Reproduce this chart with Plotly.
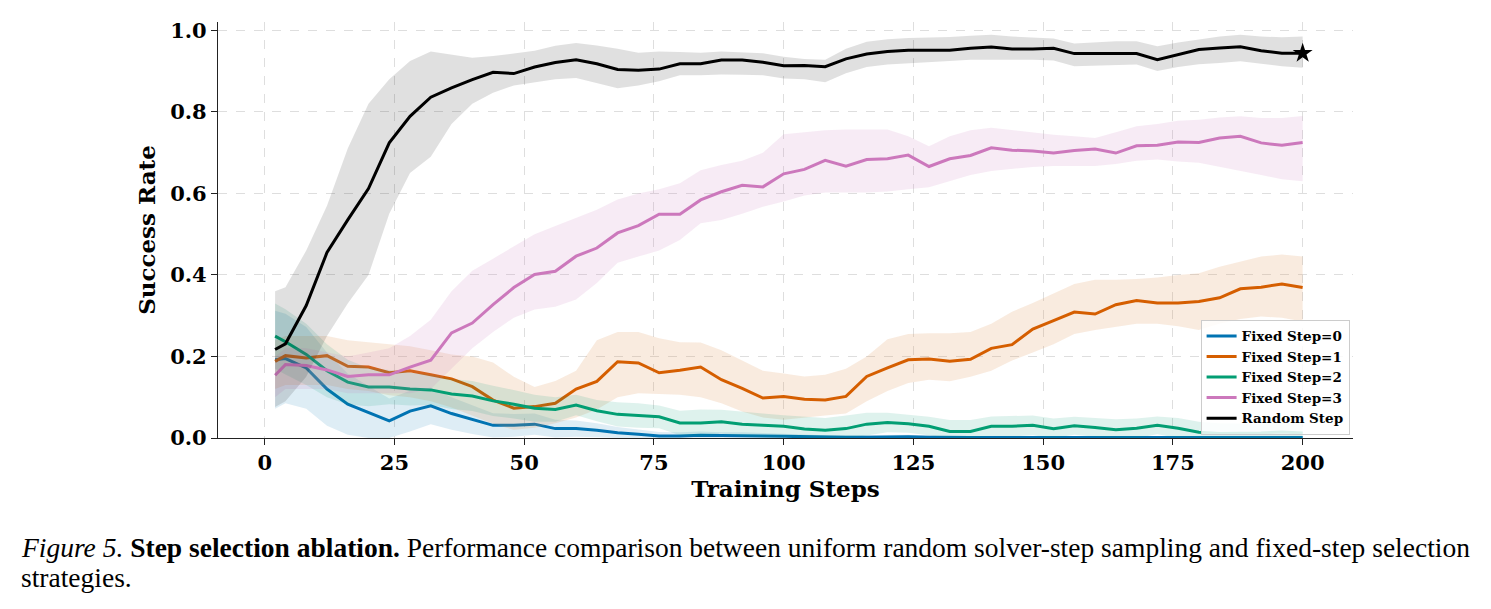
import plotly.graph_objects as go

# ---------------- data ----------------
steps = [2, 4, 8, 12, 16, 20, 24, 28, 32, 36, 40, 44, 48, 52, 56, 60, 64, 68, 72, 76,
         80, 84, 88, 92, 96, 100, 104, 108, 112, 116, 120, 124, 128, 132, 136, 140,
         144, 148, 152, 156, 160, 164, 168, 172, 176, 180, 184, 188, 192, 196, 200]

step0_mean = [0.192, 0.195, 0.172, 0.120, 0.083, 0.062, 0.042, 0.066, 0.079, 0.060, 0.045,
              0.031, 0.031, 0.034, 0.023, 0.023, 0.019, 0.013, 0.009, 0.005, 0.005, 0.007,
              0.006, 0.006, 0.005, 0.004, 0.003, 0.002, 0.002, 0.002, 0.003, 0.003, 0.002,
              0.001, 0.001, 0.001, 0.001, 0.001, 0.001, 0.001, 0.001, 0.001, 0.001, 0.001,
              0.001, 0.001, 0.001, 0.001, 0.001, 0.001, 0.001]
step0_std = [0.120, 0.110, 0.100, 0.090, 0.075, 0.065, 0.055, 0.050, 0.045, 0.040, 0.035,
             0.030, 0.028, 0.026, 0.022, 0.020, 0.017, 0.014, 0.012, 0.010, 0.009, 0.009,
             0.008, 0.008, 0.007, 0.006, 0.005, 0.005, 0.005, 0.005, 0.005, 0.005, 0.004,
             0.004, 0.004, 0.004, 0.004, 0.003, 0.003, 0.003, 0.003, 0.003, 0.003, 0.003,
             0.003, 0.003, 0.003, 0.003, 0.003, 0.003, 0.003]

step1_mean = [0.188, 0.202, 0.196, 0.202, 0.176, 0.174, 0.160, 0.165, 0.155, 0.145, 0.126,
              0.093, 0.073, 0.077, 0.085, 0.120, 0.139, 0.187, 0.184, 0.160, 0.166, 0.174,
              0.143, 0.122, 0.098, 0.102, 0.095, 0.093, 0.102, 0.151, 0.172, 0.192, 0.194,
              0.188, 0.193, 0.220, 0.229, 0.267, 0.288, 0.309, 0.304, 0.327, 0.337, 0.331,
              0.331, 0.335, 0.344, 0.366, 0.370, 0.378, 0.369]
step1_hi = [0.240, 0.250, 0.250, 0.250, 0.240, 0.235, 0.230, 0.225, 0.215, 0.205, 0.200,
            0.185, 0.150, 0.125, 0.140, 0.165, 0.240, 0.260, 0.260, 0.245, 0.235, 0.234,
            0.215, 0.190, 0.165, 0.158, 0.151, 0.155, 0.170, 0.200, 0.242, 0.255, 0.257,
            0.257, 0.260, 0.280, 0.310, 0.331, 0.355, 0.378, 0.388, 0.388, 0.390, 0.394,
            0.400, 0.404, 0.420, 0.432, 0.445, 0.450, 0.445]
step1_lo = [0.120, 0.130, 0.130, 0.130, 0.120, 0.115, 0.105, 0.100, 0.090, 0.075, 0.055,
            0.035, 0.020, 0.025, 0.036, 0.050, 0.070, 0.100, 0.110, 0.108, 0.106, 0.100,
            0.085, 0.065, 0.050, 0.045, 0.050, 0.055, 0.060, 0.090, 0.115, 0.135, 0.143,
            0.139, 0.150, 0.165, 0.190, 0.210, 0.230, 0.255, 0.265, 0.273, 0.280, 0.280,
            0.274, 0.265, 0.280, 0.292, 0.298, 0.295, 0.286]

step2_mean = [0.250, 0.236, 0.205, 0.165, 0.137, 0.125, 0.125, 0.120, 0.118, 0.108, 0.103,
              0.091, 0.083, 0.073, 0.070, 0.081, 0.067, 0.058, 0.055, 0.052, 0.037, 0.037,
              0.040, 0.034, 0.031, 0.029, 0.022, 0.019, 0.023, 0.034, 0.038, 0.035, 0.029,
              0.016, 0.016, 0.029, 0.029, 0.031, 0.023, 0.030, 0.026, 0.020, 0.024, 0.031,
              0.024, 0.014, 0.011, 0.011, 0.012, 0.015, 0.012]
step2_std = [0.080, 0.080, 0.075, 0.065, 0.055, 0.047, 0.042, 0.040, 0.037, 0.037, 0.037,
             0.037, 0.035, 0.033, 0.030, 0.025, 0.026, 0.030, 0.030, 0.028, 0.030, 0.033,
             0.029, 0.030, 0.029, 0.027, 0.030, 0.030, 0.032, 0.028, 0.024, 0.022, 0.023,
             0.028, 0.028, 0.024, 0.025, 0.024, 0.025, 0.022, 0.023, 0.026, 0.024, 0.022,
             0.025, 0.026, 0.025, 0.024, 0.023, 0.023, 0.024]

step3_mean = [0.154, 0.180, 0.178, 0.167, 0.151, 0.155, 0.155, 0.174, 0.191, 0.258, 0.282,
              0.327, 0.369, 0.401, 0.409, 0.446, 0.466, 0.503, 0.521, 0.549, 0.549, 0.584,
              0.604, 0.620, 0.616, 0.648, 0.659, 0.681, 0.667, 0.683, 0.685, 0.694, 0.666,
              0.685, 0.693, 0.712, 0.706, 0.704, 0.699, 0.705, 0.709, 0.699, 0.717, 0.718,
              0.726, 0.725, 0.736, 0.740, 0.724, 0.718, 0.725]
step3_hi = [0.200, 0.220, 0.220, 0.210, 0.200, 0.210, 0.220, 0.250, 0.290, 0.360, 0.410,
            0.440, 0.470, 0.500, 0.520, 0.540, 0.560, 0.585, 0.600, 0.610, 0.625, 0.657,
            0.670, 0.680, 0.700, 0.745, 0.750, 0.755, 0.757, 0.757, 0.757, 0.740, 0.716,
            0.740, 0.755, 0.761, 0.755, 0.750, 0.744, 0.740, 0.736, 0.750, 0.765, 0.770,
            0.778, 0.781, 0.786, 0.789, 0.785, 0.785, 0.790]
step3_lo = [0.100, 0.120, 0.120, 0.120, 0.110, 0.110, 0.110, 0.110, 0.120, 0.170, 0.220,
            0.260, 0.295, 0.315, 0.322, 0.340, 0.380, 0.430, 0.445, 0.460, 0.486, 0.527,
            0.535, 0.550, 0.567, 0.580, 0.595, 0.602, 0.602, 0.602, 0.605, 0.610, 0.615,
            0.630, 0.645, 0.655, 0.660, 0.665, 0.667, 0.667, 0.667, 0.672, 0.680, 0.683,
            0.678, 0.675, 0.665, 0.655, 0.645, 0.635, 0.630]

random_mean = [0.217, 0.231, 0.325, 0.455, 0.535, 0.612, 0.724, 0.789, 0.836, 0.859, 0.879,
               0.897, 0.894, 0.910, 0.921, 0.928, 0.918, 0.904, 0.902, 0.905, 0.918, 0.918,
               0.927, 0.927, 0.922, 0.913, 0.914, 0.911, 0.930, 0.942, 0.948, 0.951, 0.951,
               0.951, 0.956, 0.959, 0.954, 0.954, 0.956, 0.943, 0.943, 0.943, 0.943, 0.928,
               0.941, 0.953, 0.957, 0.960, 0.950, 0.944, 0.944]
random_hi = [0.360, 0.370, 0.460, 0.570, 0.710, 0.820, 0.880, 0.925, 0.948, 0.940, 0.933,
             0.937, 0.943, 0.950, 0.962, 0.969, 0.963, 0.955, 0.945, 0.948, 0.947, 0.945,
             0.948, 0.946, 0.944, 0.935, 0.930, 0.928, 0.955, 0.972, 0.978, 0.981, 0.982,
             0.984, 0.987, 0.989, 0.985, 0.983, 0.980, 0.968, 0.970, 0.973, 0.973, 0.961,
             0.970, 0.978, 0.985, 0.989, 0.985, 0.983, 0.985]
random_lo = [0.076, 0.090, 0.150, 0.250, 0.330, 0.400, 0.550, 0.650, 0.690, 0.770, 0.820,
             0.847, 0.865, 0.872, 0.880, 0.883, 0.870, 0.858, 0.865, 0.875, 0.890, 0.890,
             0.892, 0.891, 0.890, 0.882, 0.880, 0.873, 0.895, 0.910, 0.916, 0.920, 0.922,
             0.925, 0.928, 0.928, 0.928, 0.928, 0.926, 0.912, 0.913, 0.915, 0.916, 0.900,
             0.910, 0.917, 0.920, 0.924, 0.918, 0.912, 0.908]

x_ticks = [0, 25, 50, 75, 100, 125, 150, 175, 200]
y_ticks = [0.0, 0.2, 0.4, 0.6, 0.8, 1.0]

# ---------------- styling ----------------
SERIF = "DejaVu Serif"
series = [
    ("Fixed Step=0", step0_mean, None, None, step0_std, "#0173B2", "rgba(1,115,178,0.13)"),
    ("Fixed Step=1", step1_mean, step1_lo, step1_hi, None, "#D55E00", "rgba(222,143,80,0.18)"),
    ("Fixed Step=2", step2_mean, None, None, step2_std, "#029E73", "rgba(2,158,115,0.13)"),
    ("Fixed Step=3", step3_mean, step3_lo, step3_hi, None, "#CC78BC", "rgba(204,120,188,0.15)"),
    ("Random Step", random_mean, random_lo, random_hi, None, "#000000", "rgba(0,0,0,0.12)"),
]

fig = go.Figure()
for name, mean, lo, hi, std, col, fcol in series:
    if std is not None:
        lo = [max(0.0, m - s) for m, s in zip(mean, std)]
        hi = [m + s for m, s in zip(mean, std)]
    fig.add_trace(go.Scatter(
        x=steps + steps[::-1], y=hi + lo[::-1], fill="toself", fillcolor=fcol,
        line=dict(width=0, color=fcol), mode="lines", showlegend=False, hoverinfo="skip"))
    fig.add_trace(go.Scatter(
        x=steps, y=mean, mode="lines", name=name,
        line=dict(color=col, width=3)))

# star marking the final Random Step value
fig.add_trace(go.Scatter(
    x=[steps[-1]], y=[random_mean[-1]], mode="markers", showlegend=False,
    marker=dict(symbol="star", size=15, color="#000000")))

axis_font = dict(family=SERIF, size=21, color="#000000", weight="bold")
title_font = dict(family=SERIF, size=23, color="#000000", weight="bold")

fig.update_xaxes(
    range=[-9.0, 209.7], tickvals=x_ticks, ticks="outside", ticklen=6, tickwidth=1.2,
    tickcolor="#222", showline=True, linecolor="#222", linewidth=1.2,
    showgrid=True, gridcolor="#dedede", griddash="dash", gridwidth=1,
    zeroline=False, tickfont=axis_font,
    title=dict(text="Training Steps", font=title_font, standoff=2))
fig.update_yaxes(
    range=[0, 1.0205], tickvals=y_ticks, tickformat=".1f", ticks="outside", ticklen=6,
    tickwidth=1.2, tickcolor="#222", showline=True, linecolor="#222", linewidth=1.2,
    showgrid=True, gridcolor="#dedede", griddash="dash", gridwidth=1,
    zeroline=False, tickfont=axis_font,
    title=dict(text="Success Rate", font=title_font, standoff=8))

fig.update_layout(
    width=1491, height=609,
    margin=dict(l=218, r=138, t=22, b=171),
    plot_bgcolor="white", paper_bgcolor="white",
    legend=dict(x=0.997, y=0.008, xanchor="right", yanchor="bottom",
                bgcolor="rgba(255,255,255,0.85)", bordercolor="#cccccc", borderwidth=1,
                font=dict(family=SERIF, size=13.5, color="#000000", weight="bold"),
                tracegroupgap=0, itemwidth=30),
    annotations=[
        dict(xref="paper", yref="paper", x=-0.1750, y=-0.264, xanchor="left", yanchor="middle",
             showarrow=False, align="left",
             font=dict(family="Liberation Serif", size=27.5, color="#000000"),
             text="<i>Figure 5.</i> <b>Step selection ablation.</b> Performance comparison between "
                  "uniform random solver-step sampling and fixed-step selection"),
        dict(xref="paper", yref="paper", x=-0.1750, y=-0.336, xanchor="left", yanchor="middle",
             showarrow=False, align="left",
             font=dict(family="Liberation Serif", size=27.5, color="#000000"),
             text="strategies."),
    ],
)

fig.write_html("out.html")
